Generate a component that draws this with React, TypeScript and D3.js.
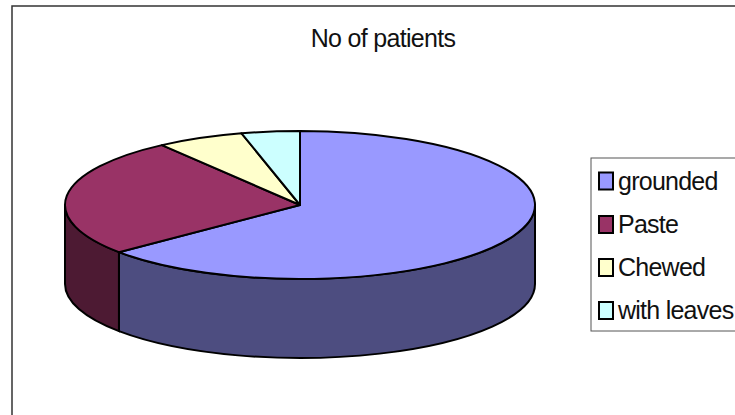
import React from "react";
import * as d3 from "d3";

const categories = ["grounded", "Paste", "Chewed", "with leaves"];
const patients = [64, 26, 6, 4];
const topColors = ["#9999ff", "#993366", "#ffffcc", "#ccffff"];
const sideColors = ["#4d4d80", "#4d1a33", "#808066", "#668080"];
const legendRows = [181, 224.5, 267.5, 310.5];

const cx = 300;
const cy = 205;
const rx = 235;
const ry = 74;
const depth = 79;

const slices = d3.pie<number>().sort(null)(patients);

// Clockwise angle from twelve o'clock projected onto the tilted disc.
const px = (a: number) => cx + rx * Math.sin(a);
const py = (a: number) => cy - ry * Math.cos(a);

const ellipseArc = (a0: number, a1: number, dy: number, sweep: number) =>
  `A${rx},${ry} 0 ${Math.abs(a1 - a0) > Math.PI ? 1 : 0} ${sweep} ${px(a1)},${py(a1) + dy}`;

const topPath = (a0: number, a1: number) =>
  `M${cx},${cy}L${px(a0)},${py(a0)}${ellipseArc(a0, a1, 0, 1)}Z`;

// Wall of a slice, limited to the part of the rim that faces the viewer.
const wallPath = (a0: number, a1: number) => {
  const s = Math.max(a0, Math.PI / 2);
  const e = Math.min(a1, (3 * Math.PI) / 2);
  if (e <= s) return null;
  return (
    `M${px(s)},${py(s)}${ellipseArc(s, e, 0, 1)}` +
    `L${px(e)},${py(e) + depth}${ellipseArc(e, s, depth, 0)}Z`
  );
};

export default function App() {
  return (
    <svg
      width={735}
      height={415}
      style={{ position: "absolute", left: 0, top: 0, background: "#fff" }}
      fontFamily="'Liberation Sans', Arial, sans-serif"
    >
      <rect x={12} y={6} width={740} height={430} fill="#fff" stroke="#333" strokeWidth={1.5} />
      <text x={383} y={47} fontSize={25} letterSpacing={-0.7} textAnchor="middle" fill="#111">
        No of patients
      </text>
      {slices.map((s, i) => {
        const w = wallPath(s.startAngle, s.endAngle);
        return w ? <path key={i} d={w} fill={sideColors[i]} stroke="#000" strokeWidth={2} /> : null;
      })}
      {slices.map((s, i) => (
        <path
          key={i}
          d={topPath(s.startAngle, s.endAngle)}
          fill={topColors[i]}
          stroke="#000"
          strokeWidth={2}
          strokeLinejoin="round"
        />
      ))}
      <rect x={591} y={158} width={160} height={173} fill="#fff" stroke="#555" strokeWidth={1} />
      {categories.map((c, i) => (
        <g key={c}>
          <rect
            x={599}
            y={legendRows[i] - 8.5}
            width={14}
            height={17}
            fill={topColors[i]}
            stroke="#000"
            strokeWidth={2}
          />
          <text x={618} y={legendRows[i] + 8.5} fontSize={25} letterSpacing={-0.75} fill="#111">
            {c}
          </text>
        </g>
      ))}
    </svg>
  );
}
